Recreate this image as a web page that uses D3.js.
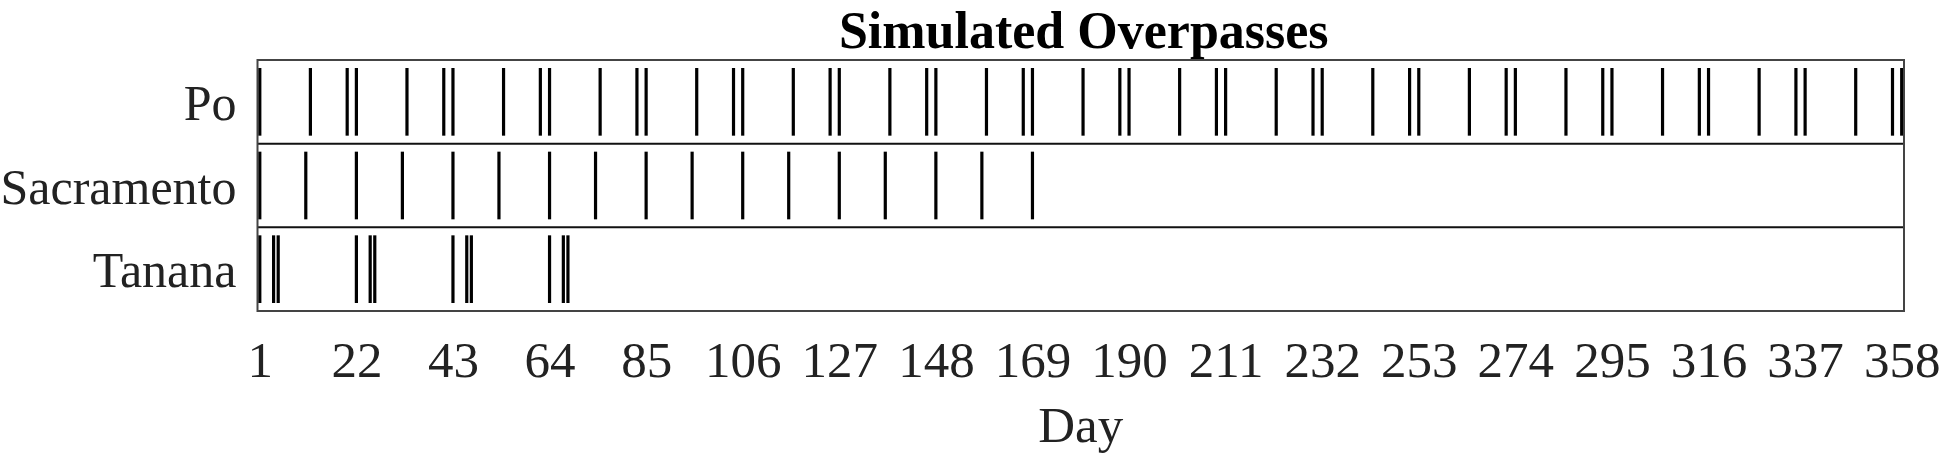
<!DOCTYPE html>
<html>
<head>
<meta charset="utf-8">
<script src="https://cdn.jsdelivr.net/npm/d3@7"></script>
<style>
  body { margin: 0; background: #fff; }
  text { font-family: "Liberation Serif", "Times New Roman", serif; }
</style>
</head>
<body>
<div id="chart"></div>
<script>
// rivers, top to bottom
const rivers = ['Po', 'Sacramento', 'Tanana']

// overpass days
const poDays = [1, 12, 20, 22, 33, 41, 43, 54, 62, 64, 75, 83, 85, 96, 104, 106, 117, 125, 127,
  138, 146, 148, 159, 167, 169, 180, 188, 190, 201, 209, 211, 222, 230, 232, 243, 251, 253,
  264, 272, 274, 285, 293, 295, 306, 314, 316, 327, 335, 337, 348, 356, 358]
const sacramentoDays = [1, 11, 22, 32, 43, 53, 64, 74, 85, 95, 106, 116, 127, 137, 148, 158, 169]
const tananaDays = [1, 4, 5, 22, 25, 26, 43, 46, 47, 64, 67, 68]

const dayTicks = [1, 22, 43, 64, 85, 106, 127, 148, 169, 190, 211, 232, 253, 274, 295, 316, 337, 358]

const width = 1942
const height = 458
const margin = {top: 60, right: 38, bottom: 147, left: 257.5}

const svg = d3.select('#chart').append('svg')
  .attr('width', width)
  .attr('height', height)

const x = d3.scaleLinear()
  .domain([0.5, 358.5])
  .range([margin.left, width - margin.right])

const y = d3.scaleBand()
  .domain(rivers)
  .range([margin.top, height - margin.bottom])

// flatten into marks
const marks = []
const dayLists = [poDays, sacramentoDays, tananaDays]
rivers.forEach((r, i) => {
  dayLists[i].forEach(d => marks.push({river: r, day: d}))
})

const inset = 8
svg.append('g')
  .selectAll('line')
  .data(marks)
  .join('line')
    .attr('x1', d => x(d.day))
    .attr('x2', d => x(d.day))
    .attr('y1', d => y(d.river) + inset)
    .attr('y2', d => y(d.river) + y.bandwidth() - inset)
    .attr('stroke', '#000')
    .attr('stroke-width', 3.2)

// row dividers
svg.append('g')
  .selectAll('line')
  .data(rivers.slice(1))
  .join('line')
    .attr('x1', x.range()[0])
    .attr('x2', x.range()[1])
    .attr('y1', d => y(d))
    .attr('y2', d => y(d))
    .attr('stroke', '#111')
    .attr('stroke-width', 2)

// outer box
svg.append('rect')
  .attr('x', x.range()[0])
  .attr('y', y.range()[0])
  .attr('width', x.range()[1] - x.range()[0])
  .attr('height', y.range()[1] - y.range()[0])
  .attr('fill', 'none')
  .attr('stroke', '#444')
  .attr('stroke-width', 2)

// x axis, labels only
const xAxis = svg.append('g')
  .attr('transform', `translate(0,${y.range()[1]})`)
  .call(d3.axisBottom(x).tickValues(dayTicks).tickSize(0).tickPadding(30))
xAxis.select('.domain').remove()
xAxis.selectAll('text')
  .style('font-family', '"Liberation Serif", serif')
  .style('font-size', '51px')
  .attr('fill', '#222')

// y axis, labels only
const yAxis = svg.append('g')
  .attr('transform', `translate(${x.range()[0]},0)`)
  .call(d3.axisLeft(y).tickSize(0).tickPadding(21))
yAxis.select('.domain').remove()
yAxis.selectAll('text')
  .style('font-family', '"Liberation Serif", serif')
  .style('font-size', '50px')
  .attr('dy', '0.36em')
  .attr('fill', '#222')

const cx = (x.range()[0] + x.range()[1]) / 2

svg.append('text')
  .attr('x', cx + 3)
  .attr('y', 48)
  .attr('text-anchor', 'middle')
  .style('font-size', '52px')
  .style('font-weight', 'bold')
  .attr('fill', '#000')
  .text('Simulated Overpasses')

svg.append('text')
  .attr('x', cx)
  .attr('y', 442)
  .attr('text-anchor', 'middle')
  .style('font-size', '51px')
  .attr('fill', '#222')
  .text('Day')
</script>
</body>
</html>
